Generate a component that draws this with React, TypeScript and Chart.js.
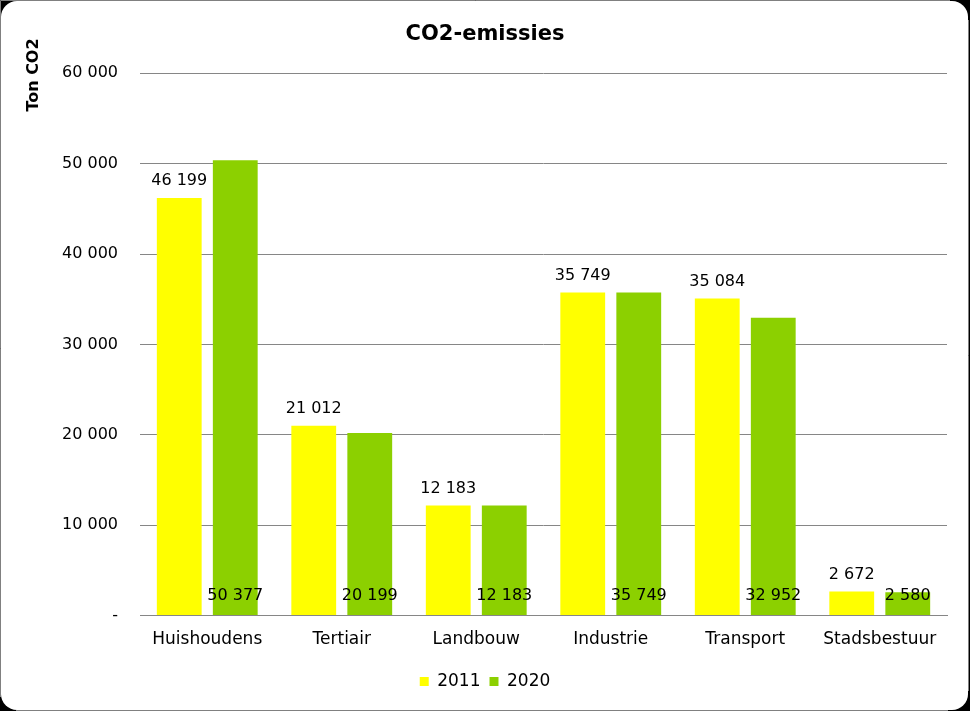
import React, { useEffect, useRef } from "react";
import { Chart, registerables } from "chart.js";

Chart.register(...registerables);

const categories = ["Huishoudens", "Tertiair", "Landbouw", "Industrie", "Transport", "Stadsbestuur"];
const values2011 = [46199, 21012, 12183, 35749, 35084, 2672];
const values2020 = [50377, 20199, 12183, 35749, 32952, 2580];
const seriesNames = ["2011", "2020"];
const chartTitle = "CO2-emissies";
const yAxisTitle = "Ton CO2";

const FONT = "'DejaVu Sans', sans-serif";
const YELLOW = "#FFFF00";
const GREEN = "#8CD000";
const GRID = "#868686";

function fmt(n: number): string {
  if (n === 0) return "-";
  return String(n).replace(/\B(?=(\d{3})+(?!\d))/g, " ");
}

const backgroundPlugin = {
  id: "frameBg",
  beforeDraw(chart: any) {
    const { ctx, width, height } = chart;
    ctx.save();
    ctx.fillStyle = "#000";
    ctx.fillRect(0, 0, width, height);
    ctx.fillStyle = "#fff";
    ctx.beginPath();
    ctx.roundRect(1, 1, width - 3, height - 2, 16);
    ctx.fill();
    ctx.strokeStyle = "#808080";
    ctx.lineWidth = 1;
    ctx.beginPath();
    ctx.moveTo(0.5, height - 14);
    ctx.lineTo(0.5, 0.5);
    ctx.lineTo(width - 20, 0.5);
    ctx.moveTo(width - 1.5, 20);
    ctx.lineTo(width - 1.5, height - 20);
    ctx.moveTo(16, height - 0.5);
    ctx.lineTo(width - 22, height - 0.5);
    ctx.stroke();
    ctx.restore();
  },
};

const labelsPlugin = {
  id: "valueLabels",
  afterDatasetsDraw(chart: any) {
    const { ctx } = chart;
    const yScale = chart.scales.y;
    const base = yScale.getPixelForValue(0);
    ctx.save();
    ctx.font = `16px ${FONT}`;
    ctx.fillStyle = "#000";
    ctx.textAlign = "center";
    ctx.textBaseline = "middle";
    chart.data.datasets.forEach((ds: any, di: number) => {
      const meta = chart.getDatasetMeta(di);
      meta.data.forEach((bar: any, i: number) => {
        const v = ds.data[i];
        const y = di === 0 ? bar.y - 17 : base - 20;
        ctx.fillText(fmt(v), bar.x, y);
      });
    });
    ctx.restore();
  },
};

const yTitlePlugin = {
  id: "yTitle",
  afterDraw(chart: any) {
    const { ctx } = chart;
    ctx.save();
    ctx.font = `bold 16px ${FONT}`;
    ctx.fillStyle = "#000";
    ctx.textAlign = "center";
    ctx.textBaseline = "middle";
    ctx.translate(34, 75);
    ctx.rotate(-Math.PI / 2);
    ctx.fillText(yAxisTitle, 0, 0);
    ctx.restore();
  },
};

export default function App() {
  const ref = useRef<HTMLCanvasElement | null>(null);

  useEffect(() => {
    if (!ref.current) return;
    const chart = new Chart(ref.current, {
      type: "bar",
      data: {
        labels: categories,
        datasets: [
          {
            label: seriesNames[0],
            data: values2011,
            backgroundColor: YELLOW,
            categoryPercentage: 0.833,
            barPercentage: 0.8,
          },
          {
            label: seriesNames[1],
            data: values2020,
            backgroundColor: GREEN,
            categoryPercentage: 0.833,
            barPercentage: 0.8,
          },
        ],
      },
      options: {
        responsive: false,
        animation: false,
        devicePixelRatio: 1,
        layout: { padding: { left: 23, right: 23, top: 0, bottom: 11 } },
        plugins: {
          title: {
            display: true,
            text: chartTitle,
            color: "#000",
            font: { family: FONT, size: 21, weight: "bold" },
            padding: { top: 22, bottom: 26 },
          },
          legend: {
            display: true,
            position: "bottom",
            labels: {
              boxWidth: 9,
              boxHeight: 9,
              color: "#000",
              padding: 9,
              font: { family: FONT, size: 17 },
            },
          },
          tooltip: { enabled: false },
        },
        scales: {
          x: {
            grid: { display: false, drawTicks: false },
            border: { display: true, color: GRID, width: 1 },
            ticks: {
              color: "#000",
              padding: 14,
              font: { family: FONT, size: 17 },
              maxRotation: 0,
              autoSkip: false,
            },
          },
          y: {
            min: 0,
            max: 60000,
            afterFit(scale: any) {
              scale.width = 117;
            },
            grid: { color: GRID, lineWidth: 1, drawTicks: false },
            border: { display: false },
            ticks: {
              stepSize: 10000,
              color: "#000",
              padding: 22,
              font: { family: FONT, size: 16 },
              callback: (v: any) => fmt(Number(v)),
            },
          },
        },
      },
      plugins: [backgroundPlugin, labelsPlugin, yTitlePlugin],
    });
    return () => chart.destroy();
  }, []);

  return (
    <div style={{ position: "absolute", left: 0, top: 0, width: 970, height: 711 }}>
      <canvas ref={ref} width={970} height={711} style={{ display: "block" }} />
    </div>
  );
}
